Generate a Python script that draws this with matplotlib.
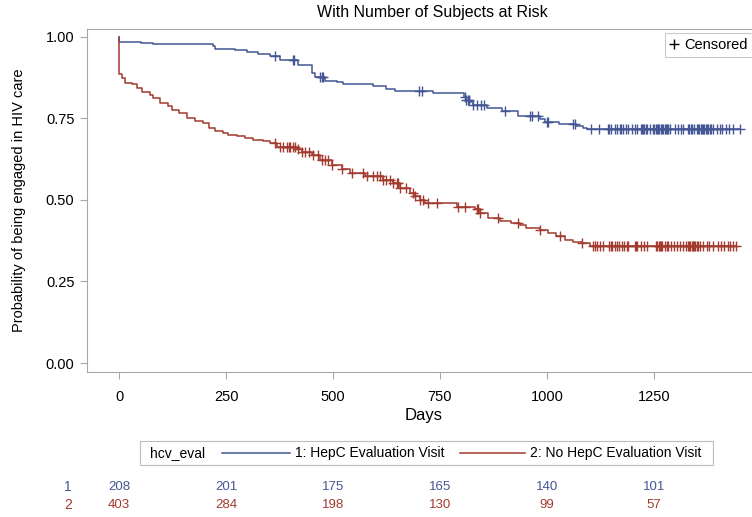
import numpy as np
import matplotlib
matplotlib.use("Agg")
import matplotlib.pyplot as plt
from matplotlib.lines import Line2D
from matplotlib.patches import Rectangle
from matplotlib.transforms import blended_transform_factory

plt.rcParams["font.family"] = ["Liberation Sans", "DejaVu Sans"]

BLUE = "#445694"
RED = "#A23A2E"

# Group 1: HepC evaluation visit (event times, survival after step)
g1_times = [0, 51, 79, 220, 224, 271, 298, 325, 353, 376, 419, 450, 458, 481, 509,
            523, 594, 624, 645, 734, 806, 812, 820, 828, 859, 894, 933, 984, 995,
            1029, 1069, 1085, 1093]
g1_surv = [0.986, 0.982, 0.978, 0.971, 0.963, 0.959, 0.953, 0.947, 0.942, 0.929,
           0.914, 0.889, 0.876, 0.866, 0.861, 0.856, 0.850, 0.839, 0.835, 0.827,
           0.815, 0.807, 0.802, 0.791, 0.781, 0.773, 0.758, 0.748, 0.740, 0.733,
           0.727, 0.720, 0.717]
g1_censor = [364, 406, 409, 470, 474, 476, 701, 709, 808, 812, 816, 818, 828, 836,
             847, 852, 902, 960, 964, 980, 999, 1003, 1062, 1065,
             1104, 1121, 1143, 1146, 1149, 1159, 1164, 1171, 1174, 1177, 1185, 1190,
             1198, 1206, 1211, 1219, 1222, 1225, 1228, 1231, 1233, 1241,
             1248, 1251, 1254, 1257, 1260, 1263, 1266, 1269, 1272, 1275, 1278, 1281,
             1284, 1287, 1299, 1307, 1313, 1318, 1330, 1333, 1336, 1339, 1343,
             1350, 1353, 1356, 1359, 1362, 1365, 1368, 1371, 1374, 1377, 1380, 1383,
             1387, 1398, 1404, 1410, 1418, 1426, 1435, 1451]

# Group 2: no HepC evaluation visit
g2_times = [0, 6, 14, 30, 41, 53, 72, 80, 96, 115, 123, 139, 158, 178, 197, 209,
            224, 244, 255, 275, 294, 314, 337, 353, 370, 415, 427, 450, 470, 497,
            520, 540, 575, 618, 641, 657, 680, 692, 703, 715, 789, 832, 843, 863,
            890, 915, 937, 952, 984, 1003, 1022, 1042, 1062, 1081, 1100]
g2_surv = [0.887, 0.873, 0.860, 0.856, 0.843, 0.830, 0.822, 0.812, 0.796, 0.787,
           0.776, 0.766, 0.751, 0.743, 0.735, 0.720, 0.712, 0.706, 0.699, 0.696,
           0.689, 0.684, 0.682, 0.674, 0.664, 0.655, 0.648, 0.638, 0.623, 0.607,
           0.594, 0.584, 0.573, 0.561, 0.551, 0.536, 0.522, 0.511, 0.500, 0.492,
           0.478, 0.471, 0.459, 0.444, 0.437, 0.430, 0.423, 0.413, 0.408, 0.398,
           0.390, 0.377, 0.372, 0.367, 0.360]
g2_censor = [364, 376, 382, 392, 396, 400, 406, 411, 419, 427, 435, 445, 454, 466,
             474, 481, 489, 497, 520, 544, 571, 579, 594, 602, 610, 618, 625, 633,
             641, 649, 653, 657, 671, 688, 692, 703, 711, 723, 742, 793, 808, 836,
             840, 843, 886, 933, 984, 1030, 1083,
             1107, 1112, 1118, 1124, 1132, 1146, 1149, 1153, 1159, 1164, 1169, 1175,
             1180, 1186, 1190, 1206, 1209, 1211, 1219, 1227, 1234, 1255, 1258, 1261,
             1264, 1267, 1270, 1276, 1280, 1284, 1291, 1297, 1303, 1311, 1318,
             1326, 1329, 1332, 1335, 1338, 1341, 1344, 1347, 1350, 1353, 1357,
             1364, 1373, 1379, 1387, 1400, 1408, 1414, 1424, 1429, 1435, 1443]

risk_days = [0, 250, 500, 750, 1000, 1250]
risk_g1 = [208, 201, 175, 165, 140, 101]
risk_g2 = [403, 284, 198, 130, 99, 57]

group_labels = ["1: HepC Evaluation Visit", "2: No HepC Evaluation Visit"]


def surv_at(times, surv, t):
    idx = np.searchsorted(times, t, side="right") - 1
    return np.array([1.0] + surv)[np.array(idx) + 1]


W, H = 752, 517
fig = plt.figure(figsize=(W / 100, H / 100), dpi=100)
ax = fig.add_axes([87 / W, 1 - 372 / H, 673 / W, 343 / H])

for times, surv, cens, col in [(g1_times, g1_surv, g1_censor, BLUE),
                               (g2_times, g2_surv, g2_censor, RED)]:
    last = max(cens)
    xs = [0] + times + [last]
    ys = [1.0] + surv + [surv[-1]]
    ax.step(xs, ys, where="post", color=col, lw=1.1)
    ax.plot(cens, surv_at(times, surv, cens), ls="none", marker="+",
            color=col, ms=7, mew=1.0)

ax.set_xlim(-75, 1498)
ax.set_ylim(-0.0276, 1.0245)
ax.set_xticks([0, 250, 500, 750, 1000, 1250])
ax.set_yticks([0, 0.25, 0.5, 0.75, 1.0])
ax.set_yticklabels(["0.00", "0.25", "0.50", "0.75", "1.00"])
for s in ax.spines.values():
    s.set_color("#a8a8a8")
ax.tick_params(direction="out", length=5, color="#a8a8a8", labelsize=10.5,
               pad=4)
ax.tick_params(axis="x", pad=8)

ax.set_xlabel("Days", fontsize=12, labelpad=3)
ax.set_ylabel("Probability of being engaged in HIV care", fontsize=10.5,
              labelpad=14)
fig.text(432 / W, 1 - 12 / H, "With Number of Subjects at Risk", ha="center",
         va="center", fontsize=11.5)

# Censored legend
cens_handle = Line2D([], [], ls="none", marker="+", color="black", ms=7, mew=1)
leg = ax.legend([cens_handle], ["Censored"], loc="upper left",
                bbox_to_anchor=((665 - 87) / 673, (372 - 33) / 343),
                frameon=True, fancybox=False, handlelength=0.6,
                handletextpad=0.4, borderpad=0.35, borderaxespad=0,
                fontsize=10.5)
leg.get_frame().set_edgecolor("#bdbdbd")
leg.get_frame().set_linewidth(0.8)

# group legend below the plot
fig.add_artist(Rectangle((140 / W, 1 - 465 / H), 573 / W, 24 / H,
                         transform=fig.transFigure, fill=False,
                         edgecolor="#bdbdbd", lw=0.8))
ly = 1 - 453 / H
fig.text(150 / W, ly, "hcv_eval", ha="left", va="center", fontsize=10)
fig.add_artist(Line2D([222 / W, 290 / W], [ly, ly], color=BLUE, lw=1.1,
                      transform=fig.transFigure))
fig.text(295 / W, ly, group_labels[0], ha="left", va="center", fontsize=10)
fig.add_artist(Line2D([460 / W, 525 / W], [ly, ly], color=RED, lw=1.1,
                      transform=fig.transFigure))
fig.text(530 / W, ly, group_labels[1], ha="left", va="center", fontsize=10)

# number at risk table
tr = blended_transform_factory(ax.transData, fig.transFigure)
fig.text(68 / W, 1 - 487 / H, "1", color=BLUE, ha="center", va="center",
         fontsize=10)
fig.text(68 / W, 1 - 505 / H, "2", color=RED, ha="center", va="center",
         fontsize=10)
for d, n1, n2 in zip(risk_days, risk_g1, risk_g2):
    ax.text(d, 1 - 487 / H, str(n1), transform=tr, color=BLUE, ha="center",
            va="center", fontsize=9.5)
    ax.text(d, 1 - 505 / H, str(n2), transform=tr, color=RED, ha="center",
            va="center", fontsize=9.5)

fig.savefig("out.png", dpi=100)
